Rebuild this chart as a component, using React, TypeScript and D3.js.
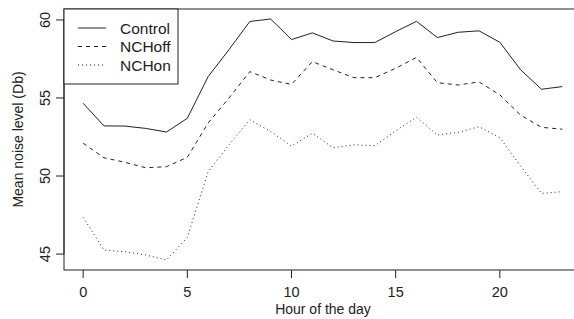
import { useEffect, useRef } from 'react';
import * as d3 from 'd3';

const hours = d3.range(0, 24);
const control = [54.66, 53.21, 53.2, 53.05, 52.82, 53.7, 56.37, 58.1, 59.9, 60.06, 58.74, 59.17,
  58.65, 58.55, 58.55, 59.25, 59.91, 58.87, 59.21, 59.3, 58.57, 56.8, 55.56, 55.73];
const nchOff = [52.1, 51.17, 50.88, 50.53, 50.6, 51.2, 53.4, 55.0, 56.69, 56.15, 55.87, 57.33,
  56.8, 56.3, 56.3, 56.9, 57.6, 55.98, 55.83, 56.03, 55.2, 53.9, 53.12, 53.0];
const nchOn = [47.35, 45.26, 45.15, 44.94, 44.62, 46.07, 50.28, 52.0, 53.6, 52.85, 51.92, 52.74,
  51.81, 52.0, 51.94, 52.9, 53.76, 52.63, 52.8, 53.16, 52.46, 50.64, 48.89, 49.0];
const seriesNames = ['Control', 'NCHoff', 'NCHon'];
const dashes = ['none', '4,4', '1,3'];
const xTicks = [0, 5, 10, 15, 20];
const yTicks = [45, 50, 55, 60];

export default function App() {
  const ref = useRef<SVGSVGElement>(null);

  useEffect(() => {
    if (!ref.current) return;
    const W = 574, H = 319;
    const svg = d3.select(ref.current);
    svg.selectAll('*').remove();
    svg.attr('width', W).attr('height', H).attr('viewBox', `0 0 ${W} ${H}`);

    const left = 64, right = 581.5, top = 9, bottom = 270;
    const x = d3.scaleLinear().domain([-0.92, 23.92]).range([left, right]);
    const y = d3.scaleLinear().domain([43.98, 60.7]).range([bottom, top]);
    const font = 'Liberation Sans, Arial, sans-serif';

    const all = [control, nchOff, nchOn];
    const line = d3.line<number>().x((_, i) => x(hours[i])).y((d) => y(d));

    all.forEach((vals, k) => {
      svg.append('path')
        .attr('d', line(vals) as string)
        .attr('fill', 'none')
        .attr('stroke', '#222')
        .attr('stroke-width', 1)
        .attr('stroke-dasharray', dashes[k]);
    });

    // box
    svg.append('rect')
      .attr('x', left).attr('y', top)
      .attr('width', right - left).attr('height', bottom - top)
      .attr('fill', 'none').attr('stroke', '#222').attr('stroke-width', 1);

    // x axis
    const gx = svg.append('g');
    xTicks.forEach((t) => {
      gx.append('line')
        .attr('x1', x(t)).attr('x2', x(t)).attr('y1', bottom).attr('y2', bottom + 8)
        .attr('stroke', '#222');
      gx.append('text')
        .attr('x', x(t)).attr('y', bottom + 27)
        .attr('text-anchor', 'middle')
        .attr('font-family', font).attr('font-size', 14.5).attr('fill', '#222')
        .text(t);
    });
    svg.append('text')
      .attr('x', 323).attr('y', 314)
      .attr('text-anchor', 'middle')
      .attr('font-family', font).attr('font-size', 14).attr('fill', '#222')
      .text('Hour of the day');

    // y axis
    svg.append('line')
      .attr('x1', left).attr('x2', left).attr('y1', y(45)).attr('y2', y(60))
      .attr('stroke', '#222');
    yTicks.forEach((t) => {
      svg.append('line')
        .attr('x1', left - 8).attr('x2', left).attr('y1', y(t)).attr('y2', y(t))
        .attr('stroke', '#222');
      svg.append('text')
        .attr('transform', `translate(${left - 14},${y(t)}) rotate(-90)`)
        .attr('text-anchor', 'middle')
        .attr('font-family', font).attr('font-size', 14.5).attr('fill', '#222')
        .text(t);
    });
    svg.append('text')
      .attr('transform', `translate(23,${(top + bottom) / 2}) rotate(-90)`)
      .attr('text-anchor', 'middle')
      .attr('font-family', font).attr('font-size', 14).attr('fill', '#222')
      .text('Mean noise level (Db)');

    // legend
    const lg = svg.append('g');
    lg.append('rect')
      .attr('x', left).attr('y', top)
      .attr('width', 114).attr('height', 75)
      .attr('fill', 'white').attr('stroke', '#222');
    seriesNames.forEach((name, k) => {
      const ly = 28 + k * 18.5;
      lg.append('line')
        .attr('x1', 78).attr('x2', 106).attr('y1', ly).attr('y2', ly)
        .attr('stroke', '#222').attr('stroke-dasharray', dashes[k]);
      lg.append('text')
        .attr('x', 120).attr('y', ly + 5.5)
        .attr('font-family', font).attr('font-size', 15.5).attr('fill', '#222')
        .text(name);
    });
  }, []);

  return <svg ref={ref} style={{ position: 'absolute', left: 0, top: 0 }} />;
}
